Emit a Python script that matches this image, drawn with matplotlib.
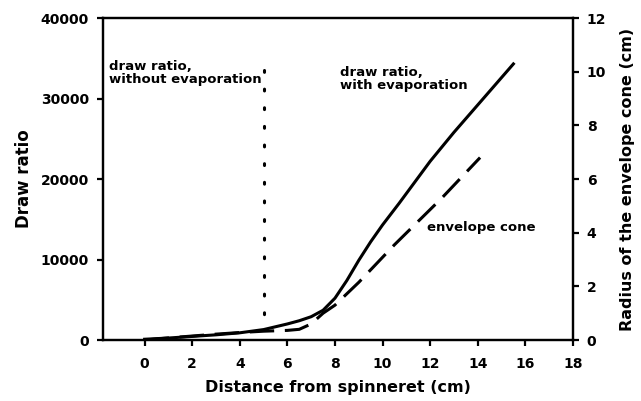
import matplotlib
matplotlib.use('Agg')
import matplotlib.pyplot as plt

plt.rcParams['font.family'] = ['DejaVu Sans']
plt.rcParams['font.weight'] = 'bold'

# draw ratio with evaporation (left axis)
dist_dr = [0, 1, 2, 3, 4, 5, 6, 6.5, 7, 7.5, 8, 8.5, 9, 9.5, 10, 10.7, 12, 13, 14, 15.5]
draw_ratio = [100, 250, 450, 650, 900, 1300, 2000, 2400, 2900, 3700, 5200, 7400,
              9900, 12200, 14300, 17000, 22200, 25800, 29200, 34300]

# envelope cone radius (right axis)
dist_cone = [0, 1, 2, 3, 4, 5, 6, 6.5, 7, 7.5, 8, 9, 10.5, 12.5, 14.1]
cone_radius = [0.0, 0.08, 0.15, 0.22, 0.28, 0.33, 0.36, 0.4, 0.6, 1.0, 1.3, 2.15,
               3.55, 5.3, 6.8]

# draw ratio without evaporation (vertical dotted line, drawn top-down)
dist_noevap = [5, 5]
draw_noevap = [33500, 1200]

fig = plt.figure(figsize=(6.41, 4.01), dpi=100)
ax = fig.add_axes([0.1607, 0.152, 0.733, 0.803])
ax2 = ax.twinx()

ax.plot(dist_dr, draw_ratio, color='black', lw=2.2)
ax.plot(dist_noevap, draw_noevap, color='black', lw=2.2, linestyle=(0, (0.6, 5.5)),
        dash_capstyle='round')
ax2.plot(dist_cone, cone_radius, color='black', lw=2.2, linestyle=(0, (8, 3.5)))

ax.set_xlim(-1.75, 18)
ax.set_ylim(0, 40000)
ax2.set_ylim(0, 12)
ax.set_xticks(range(0, 19, 2))
ax.set_yticks([0, 10000, 20000, 30000, 40000])
ax2.set_yticks(range(0, 13, 2))

for a in (ax, ax2):
    for s in a.spines.values():
        s.set_linewidth(1.6)
    a.tick_params(direction='out', length=4, width=1.6, labelsize=10, pad=6)
ax.tick_params(axis='x', pad=8)

ax.set_xlabel('Distance from spinneret (cm)', fontsize=11.5, fontweight='bold', labelpad=7)
ax.set_ylabel('Draw ratio', fontsize=12, fontweight='bold', labelpad=6)
ax2.set_ylabel('Radius of the envelope cone (cm)', fontsize=11.5, fontweight='bold', labelpad=10)

ax.text(-1.5, 34800, 'draw ratio,\nwithout evaporation', fontsize=9.5, fontweight='bold',
        va='top', ha='left', linespacing=1.05)
ax.text(8.2, 34100, 'draw ratio,\nwith evaporation', fontsize=9.5, fontweight='bold',
        va='top', ha='left', linespacing=1.05)
ax.text(11.85, 14000, 'envelope cone', fontsize=9.5, fontweight='bold', va='center', ha='left')

fig.savefig('out.png', dpi=100)
